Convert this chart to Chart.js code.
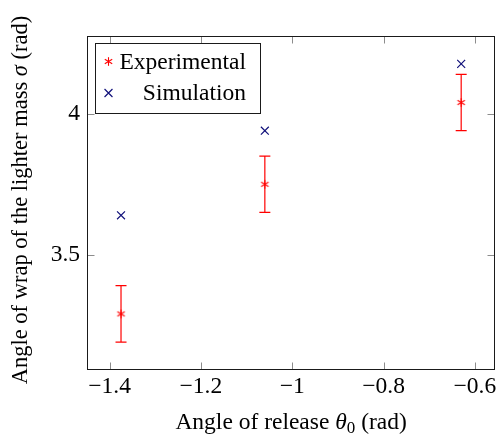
<!DOCTYPE html>
<html><head><meta charset="utf-8">
<script src="https://cdn.jsdelivr.net/npm/chart.js@4.4.1/dist/chart.umd.min.js"></script>
<style>html,body{margin:0;padding:0;background:#fff}#c{display:block}</style>
</head><body>
<canvas id="c" width="502" height="437"></canvas>
<script>
// ---- data ----
const angles = [-1.375, -1.06, -0.63];          // angle of release θ0 (rad)
const experimental = [3.29, 3.75, 4.04];        // measured wrap angle σ (rad)
const expError = [0.1, 0.1, 0.1];               // ± error
const simulation = [3.64, 3.94, 4.177];         // simulated wrap angle σ (rad)
const xTicks = [-1.4, -1.2, -1, -0.8, -0.6];
const yTicks = [3.5, 4];
const seriesNames = ['Experimental', 'Simulation'];

const FONT = "'Liberation Serif'";
const FS = 23.5;
const FSY = 22.5;
const RED = '#ff0000';
const NAVY = '#10107a';

function makeAsterisk(color, r, lw) {
  const s = Math.ceil(2 * r + 4);
  const c = document.createElement('canvas'); c.width = s; c.height = s;
  const g = c.getContext('2d');
  g.strokeStyle = color; g.lineWidth = lw;
  const cx = s / 2, cy = s / 2;
  for (let k = 0; k < 3; k++) {
    const a = Math.PI / 2 + k * Math.PI / 3;
    g.beginPath();
    g.moveTo(cx + r * Math.cos(a), cy + r * Math.sin(a));
    g.lineTo(cx - r * Math.cos(a), cy - r * Math.sin(a));
    g.stroke();
  }
  return c;
}
const asterisk = makeAsterisk(RED, 4.3, 1.1);

const expPoints = angles.map((a, i) => ({ x: a, y: experimental[i] }));
const simPoints = angles.map((a, i) => ({ x: a, y: simulation[i] }));
const errPoints = [];
angles.forEach((a, i) => {
  errPoints.push({ x: a, y: experimental[i] - expError[i] },
                 { x: a, y: experimental[i] + expError[i] },
                 { x: a, y: null });
});

const fmt = v => (v < 0 ? '\u2212' : '') + String(Math.abs(v));

function drawSegments(ctx, segs, x, y, align) {
  let total = 0;
  segs.forEach(s => { ctx.font = s.f; s.w = ctx.measureText(s.t).width; total += s.w; });
  let cx = align === 'center' ? x - total / 2 : x;
  segs.forEach(s => { ctx.font = s.f; ctx.fillText(s.t, cx, y + (s.dy || 0)); cx += s.w; });
}

const decor = {
  id: 'decor',
  afterDraw(chart) {
    const { ctx, chartArea: a, scales: { x, y } } = chart;
    ctx.save();
    const L = Math.round(a.left) + 0.5, R = Math.round(a.right) - 0.5;
    const T = Math.round(a.top) + 0.5, B = Math.round(a.bottom) - 0.5;
    ctx.strokeStyle = '#8c8c8c'; ctx.lineWidth = 1;
    const tl = 7;
    ctx.beginPath();
    x.ticks.forEach(t => {
      const px = Math.round(x.getPixelForValue(t.value)) + 0.5;
      ctx.moveTo(px, B); ctx.lineTo(px, B - tl);
      ctx.moveTo(px, T); ctx.lineTo(px, T + tl);
    });
    y.ticks.forEach(t => {
      const py = Math.round(y.getPixelForValue(t.value)) + 0.5;
      ctx.moveTo(L, py); ctx.lineTo(L + tl, py);
      ctx.moveTo(R, py); ctx.lineTo(R - tl, py);
    });
    ctx.stroke();
    ctx.strokeStyle = '#1a1a1a'; ctx.lineWidth = 1;
    ctx.strokeRect(L, T, R - L, B - T);

    // legend
    const lx = 95.5, ly = 43.5, lw = 165, lh = 70;
    ctx.fillStyle = '#fff';
    ctx.fillRect(lx, ly, lw, lh);
    ctx.strokeStyle = '#1a1a1a';
    ctx.strokeRect(lx, ly, lw, lh);
    const rows = [61.5, 93];
    ctx.textAlign = 'right';
    ctx.textBaseline = 'middle';
    seriesNames.forEach((name, i) => {
      const d = chart.data.datasets.find(ds => ds.label === name);
      const my = rows[i], mx = 108.5;
      if (d.pointStyle instanceof HTMLCanvasElement) {
        ctx.drawImage(d.pointStyle, mx - d.pointStyle.width / 2, my - d.pointStyle.height / 2);
      } else {
        const r = d.pointRadius * Math.SQRT1_2;
        ctx.strokeStyle = d.pointBorderColor; ctx.lineWidth = d.pointBorderWidth;
        ctx.beginPath();
        ctx.moveTo(mx - r, my - r); ctx.lineTo(mx + r, my + r);
        ctx.moveTo(mx - r, my + r); ctx.lineTo(mx + r, my - r);
        ctx.stroke();
      }
      ctx.fillStyle = '#000';
      ctx.font = FS + 'px ' + FONT;
      ctx.fillText(d.label, 246, my + 1);
    });

    ctx.textAlign = 'left';
    ctx.textBaseline = 'alphabetic';
    ctx.fillStyle = '#000';
    const nf = FS + 'px ' + FONT, itf = 'italic ' + FS + 'px ' + FONT, sf = Math.round(FS * 0.72) + 'px ' + FONT;
    drawSegments(ctx, [
      { t: 'Angle of release ', f: nf },
      { t: '\u03B8', f: itf },
      { t: '0', f: sf, dy: 4 },
      { t: ' (rad)', f: nf }
    ], (a.left + a.right) / 2, 429, 'center');

    const nfy = FSY + 'px ' + FONT, itfy = 'italic ' + FSY + 'px ' + FONT;
    ctx.save();
    ctx.translate(27, 200);
    ctx.rotate(-Math.PI / 2);
    drawSegments(ctx, [
      { t: 'Angle of wrap of the lighter mass ', f: nfy },
      { t: '\u03C3', f: itfy },
      { t: ' (rad)', f: nfy }
    ], 0, 0, 'center');
    ctx.restore();
    ctx.restore();
  }
};

new Chart(document.getElementById('c'), {
  type: 'scatter',
  data: {
    datasets: [
      { label: seriesNames[0], data: expPoints, pointStyle: asterisk, pointRadius: 5,
        pointBorderColor: RED, borderColor: RED, pointBorderWidth: 1.1 },
      { label: seriesNames[1], data: simPoints, pointStyle: 'crossRot', pointRadius: 5.6,
        pointBorderColor: NAVY, pointBackgroundColor: NAVY, borderColor: NAVY, pointBorderWidth: 1.2 },
      { label: 'error', data: errPoints, showLine: true, spanGaps: false, borderColor: RED, borderWidth: 1.2,
        pointStyle: 'line', pointRadius: 5.5, pointBorderColor: RED, pointBorderWidth: 1.2 }
    ]
  },
  options: {
    responsive: false, animation: false, devicePixelRatio: 1,
    layout: { padding: { left: 0, right: 6, top: 36, bottom: 0 } },
    plugins: { legend: { display: false }, tooltip: { enabled: false } },
    scales: {
      x: {
        type: 'linear', min: -1.4495, max: -0.5555,
        afterBuildTicks: s => { s.ticks = xTicks.map(v => ({ value: v })); },
        afterFit: s => { s.height = 67; },
        grid: { display: false, drawTicks: false }, border: { display: false },
        ticks: { font: { family: FONT, size: FS }, color: '#000', padding: 3, maxRotation: 0, autoSkip: false, callback: fmt }
      },
      y: {
        type: 'linear', min: 3.091, max: 4.276,
        afterBuildTicks: s => { s.ticks = yTicks.map(v => ({ value: v })); },
        afterFit: s => { s.width = 87; },
        grid: { display: false, drawTicks: false }, border: { display: false },
        ticks: { font: { family: FONT, size: FS }, color: '#000', padding: 7, autoSkip: false, callback: fmt }
      }
    }
  },
  plugins: [decor]
});
</script>
</body></html>
